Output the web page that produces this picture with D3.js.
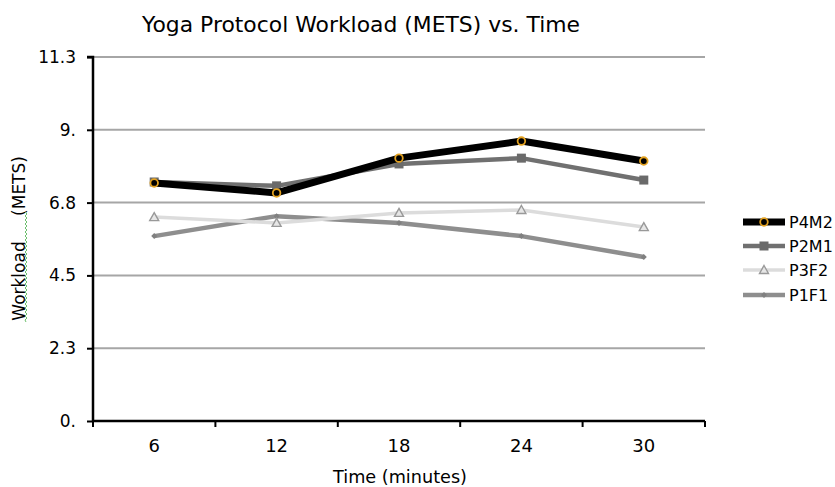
<!DOCTYPE html>
<html><head><meta charset="utf-8">
<script src="https://cdn.jsdelivr.net/npm/d3@7/dist/d3.min.js"></script>
<style>body{margin:0;background:#fff}svg{display:block}text{font-family:"DejaVu Sans",Verdana,sans-serif}</style>
</head><body>
<svg id="c" width="835" height="487"></svg>
<script>
const categories = ["6","12","18","24","30"];
const yTicks = [0, 2.26, 4.52, 6.78, 9.04, 11.3];
const yTickLabels = ["0.", "2.3", "4.5", "6.8", "9.", "11.3"];
const seriesNames = ["P4M2","P2M1","P3F2","P1F1"];
const P4M2 = [7.39, 7.08, 8.16, 8.69, 8.07];
const P2M1 = [7.42, 7.30, 7.98, 8.16, 7.48];
const P3F2 = [6.33, 6.15, 6.46, 6.55, 6.02];
const P1F1 = [5.74, 6.36, 6.15, 5.74, 5.09];
const seriesValues = [P4M2, P2M1, P3F2, P1F1];

const styles = {
  P4M2:{stroke:"#000", w:7, marker:"circle"},
  P2M1:{stroke:"#707070", w:4.5, marker:"square"},
  P3F2:{stroke:"#dcdcdc", w:3.5, marker:"triangle"},
  P1F1:{stroke:"#8e8e8e", w:4.5, marker:"diamond"}
};

const svg = d3.select("#c");
const L=93, R=705, T=57, B=421;
const x = d3.scaleBand().domain(categories).range([L,R]);
const y = d3.scaleLinear().domain([0,11.3]).range([B,T]);

// gridlines
svg.append("g").selectAll("line").data(yTicks.slice(1)).join("line")
  .attr("x1",L).attr("x2",R).attr("y1",d=>y(d)).attr("y2",d=>y(d))
  .attr("stroke","#a6a6a6").attr("stroke-width",2);

// y axis
const ya = svg.append("g").attr("transform",`translate(${L},0)`)
  .call(d3.axisLeft(y).tickValues(yTicks).tickFormat((d,i)=>yTickLabels[i]).tickSize(6).tickPadding(11));
ya.select(".domain").attr("stroke","#000").attr("stroke-width",2.5).attr("d",`M-6,${T}H0V${B}`);
ya.selectAll(".tick line").attr("stroke","#000").attr("stroke-width",2);
ya.selectAll(".tick text").attr("font-size",17).attr("fill","#000");

// x axis
const xa = svg.append("g").attr("transform",`translate(0,${B})`)
  .call(d3.axisBottom(x).tickSize(0).tickPadding(18));
xa.select(".domain").attr("stroke","#000").attr("stroke-width",2.5).attr("d",`M${L},0H${R}`);
xa.selectAll(".tick text").attr("font-size",18).attr("fill","#000");
const bounds = categories.map(c=>x(c)).concat([R]);
xa.append("g").selectAll("line").data(bounds).join("line")
  .attr("x1",d=>d).attr("x2",d=>d).attr("y1",0).attr("y2",6)
  .attr("stroke","#000").attr("stroke-width",2);

// lines
const line = d3.line().x((d,i)=>x(categories[i])+x.bandwidth()/2).y(d=>y(d));
function marker(g, type, cx, cy){
  if(type==="circle") g.append("circle").attr("cx",cx).attr("cy",cy).attr("r",3.8).attr("fill","#000").attr("stroke","#e3a11f").attr("stroke-width",1.8);
  if(type==="square") g.append("rect").attr("x",cx-4.5).attr("y",cy-4.5).attr("width",9).attr("height",9).attr("fill","#6a6a6a");
  if(type==="triangle") g.append("path").attr("d",`M${cx},${cy-4.5}L${cx+4.5},${cy+3.5}L${cx-4.5},${cy+3.5}Z`).attr("fill","#e6e6e6").attr("stroke","#999").attr("stroke-width",1.4);
  if(type==="diamond") g.append("path").attr("d",`M${cx},${cy-3}L${cx+3},${cy}L${cx},${cy+3}L${cx-3},${cy}Z`).attr("fill","#808080");
}
const order = [3,2,1,0];
order.forEach(si=>{
  const name=seriesNames[si], st=styles[name], vals=seriesValues[si];
  const g=svg.append("g");
  g.append("path").attr("d",line(vals)).attr("fill","none").attr("stroke",st.stroke).attr("stroke-width",st.w).attr("stroke-linejoin","round");
  vals.forEach((v,i)=>marker(g, st.marker, x(categories[i])+x.bandwidth()/2, y(v)));
});

// legend
const lg = svg.append("g");
const legY = [222,246,270,295];
seriesNames.forEach((name,i)=>{
  const st=styles[name];
  lg.append("line").attr("x1",743).attr("x2",785).attr("y1",legY[i]).attr("y2",legY[i]).attr("stroke",st.stroke).attr("stroke-width",st.w);
  marker(lg, st.marker, 764, legY[i]);
  lg.append("text").attr("x",789).attr("y",legY[i]).attr("dy","0.36em").attr("font-size",16).text(name);
});

// titles
svg.append("text").attr("x",361).attr("y",32).attr("text-anchor","middle").attr("font-size",22)
  .attr("textLength",438).attr("lengthAdjust","spacingAndGlyphs").text("Yoga Protocol Workload (METS) vs. Time");
svg.append("text").attr("x",400).attr("y",483).attr("text-anchor","middle").attr("font-size",18)
  .attr("textLength",134).attr("lengthAdjust","spacingAndGlyphs").text("Time (minutes)");
svg.append("text").attr("transform","translate(25,281) rotate(-90)").attr("text-anchor","middle").attr("font-size",17).text("Workload");
svg.append("text").attr("transform","translate(25,186) rotate(-90)").attr("text-anchor","middle").attr("font-size",17).text("(METS)");
// spellcheck squiggle under "Workload"
let sq="M26,322"; let k=0; for(let yy=322; yy>213; yy-=2){ k++; sq+=`L${k%2?25:27},${yy-2}`; }
svg.append("path").attr("d",sq).attr("fill","none").attr("stroke","#6cbf6c").attr("stroke-width",1);
</script>
</body></html>
